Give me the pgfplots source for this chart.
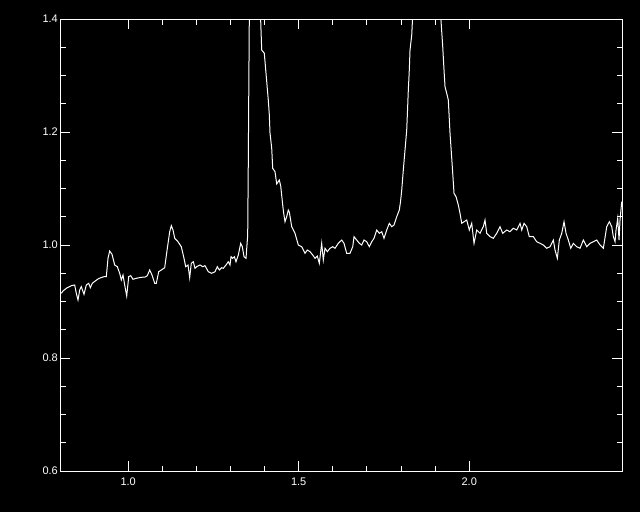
\documentclass[border=0pt]{standalone}
\usepackage{fontspec}
\setmainfont{Liberation Sans}
\usepackage{pgfplots}
\pgfplotsset{compat=1.18}
\begin{document}
\begin{tikzpicture}[x=1pt,y=1pt]
\fill[black] (0,0) rectangle (640,512);
\begin{axis}[
  at={(60pt,41pt)}, anchor=south west,
  scale only axis, width=562pt, height=452pt,
  xmin=0.8, xmax=2.448, ymin=0.6, ymax=1.4,
  xtick={1.0,1.5,2.0}, ytick={0.6,0.8,1.0,1.2,1.4},
  minor x tick num=4, minor y tick num=3,
  tick align=inside,
  major tick length=10pt, minor tick length=5.5pt,
  axis line style={white, line width=1pt},
  every tick/.style={white, line width=1pt},
  tick label style={white, font=\fontsize{11}{13}\selectfont},
  /pgf/number format/assume math mode=true,
  /pgf/number format/fixed,
  /pgf/number format/fixed zerofill,
  /pgf/number format/precision=1,
  xticklabel style={inner sep=0pt, yshift=-7pt},
  yticklabel style={inner sep=0pt, xshift=-2pt},
  clip=true,
]
\addplot[white, line width=1pt] coordinates {
(0.8038,0.9145)(0.8088,0.9186)(0.8185,0.9234)(0.8331,0.9280)(0.8431,0.9292)(0.8478,0.9145)
(0.8528,0.9027)(0.8578,0.9204)(0.8625,0.9262)(0.8704,0.9127)(0.8771,0.9292)(0.8842,0.9322)
(0.8889,0.9244)(0.8947,0.9322)(0.9035,0.9363)(0.9114,0.9398)(0.9194,0.9421)(0.9290,0.9439)
(0.9358,0.9439)(0.9408,0.9765)(0.9457,0.9894)(0.9525,0.9835)(0.9604,0.9646)(0.9680,0.9616)
(0.9751,0.9499)(0.9798,0.9381)(0.9848,0.9469)(0.9897,0.9292)(0.9956,0.9097)(1.0015,0.9439)
(1.0073,0.9457)(1.0141,0.9393)(1.0238,0.9411)(1.0384,0.9428)(1.0501,0.9434)(1.0560,0.9457)
(1.0630,0.9558)(1.0698,0.9469)(1.0777,0.9322)(1.0824,0.9322)(1.0894,0.9527)(1.0971,0.9558)
(1.1070,0.9598)(1.1147,0.9942)(1.1217,1.0235)(1.1264,1.0342)(1.1314,1.0265)(1.1364,1.0119)
(1.1460,1.0058)(1.1557,0.9970)(1.1636,0.9765)(1.1686,0.9616)(1.1754,0.9646)(1.1803,0.9421)
(1.1850,0.9676)(1.1909,0.9704)(1.1959,0.9588)(1.2009,0.9616)(1.2106,0.9646)(1.2185,0.9616)
(1.2252,0.9634)(1.2349,0.9527)(1.2449,0.9499)(1.2545,0.9527)(1.2613,0.9616)(1.2672,0.9558)
(1.2742,0.9598)(1.2789,0.9588)(1.2868,0.9646)(1.2935,0.9704)(1.2985,0.9646)(1.3015,0.9793)
(1.3064,0.9765)(1.3111,0.9793)(1.3161,0.9704)(1.3229,0.9823)(1.3299,1.0030)(1.3346,0.9970)
(1.3396,0.9793)(1.3455,0.9765)(1.3504,1.0177)(1.3522,1.1504)(1.3534,1.2566)(1.3551,1.4000)
(1.3600,1.6000)(1.3720,1.7000)(1.3840,1.5000)
(1.3886,1.3952)(1.3915,1.3451)(1.3991,1.3393)(1.4062,1.2890)(1.4108,1.2566)(1.4138,1.2301)
(1.4158,1.1982)(1.4208,1.1712)(1.4237,1.1358)(1.4305,1.1297)(1.4355,1.1080)(1.4431,1.1150)
(1.4472,1.1044)(1.4531,1.0708)(1.4554,1.0584)(1.4598,1.0412)(1.4648,1.0501)(1.4695,1.0619)
(1.4724,1.0584)(1.4795,1.0324)(1.4891,1.0207)(1.4988,1.0000)(1.5088,0.9970)(1.5185,0.9853)
(1.5252,0.9912)(1.5331,0.9882)(1.5411,0.9823)(1.5478,0.9765)(1.5545,0.9805)(1.5604,0.9676)
(1.5674,1.0030)(1.5721,0.9735)(1.5771,0.9942)(1.5839,0.9882)(1.5918,0.9942)(1.5997,0.9970)
(1.6064,0.9942)(1.6161,1.0030)(1.6261,1.0088)(1.6328,1.0030)(1.6407,0.9853)(1.6504,0.9853)
(1.6584,0.9970)(1.6622,1.0147)(1.6701,1.0088)(1.6777,1.0030)(1.6848,1.0000)(1.6915,1.0088)
(1.6994,1.0058)(1.7070,0.9970)(1.7141,1.0058)(1.7208,1.0119)(1.7287,1.0265)(1.7364,1.0207)
(1.7434,1.0235)(1.7501,1.0119)(1.7581,1.0265)(1.7657,1.0384)(1.7727,1.0324)(1.7795,1.0354)
(1.7874,1.0501)(1.7950,1.0619)(1.7985,1.0766)(1.8021,1.0973)(1.8067,1.1327)(1.8117,1.1681)
(1.8167,1.2035)(1.8191,1.2389)(1.8214,1.2743)(1.8243,1.3097)(1.8264,1.3451)(1.8314,1.3717)
(1.8337,1.4000)(1.8450,1.5500)(1.8650,1.7000)(1.8850,1.7200)(1.9050,1.5500)
(1.9173,1.3965)(1.9223,1.3510)(1.9261,1.3097)(1.9290,1.2802)(1.9340,1.2685)(1.9387,1.2566)
(1.9437,1.1977)(1.9504,1.1386)(1.9554,1.0915)(1.9613,1.0855)(1.9680,1.0708)(1.9730,1.0561)
(1.9780,1.0384)(1.9848,1.0412)(1.9927,1.0442)(2.0003,1.0265)(2.0073,1.0384)(2.0141,1.0030)
(2.0220,1.0265)(2.0317,1.0207)(2.0413,1.0324)(2.0463,1.0442)(2.0513,1.0207)(2.0610,1.0147)
(2.0707,1.0119)(2.0806,1.0207)(2.0903,1.0324)(2.0982,1.0207)(2.1100,1.0265)(2.1196,1.0235)
(2.1293,1.0296)(2.1393,1.0265)(2.1490,1.0384)(2.1540,1.0265)(2.1607,1.0384)(2.1686,1.0324)
(2.1762,1.0147)(2.1880,1.0147)(2.1979,1.0058)(2.2076,1.0030)(2.2173,1.0000)(2.2273,0.9942)
(2.2370,0.9970)(2.2466,1.0088)(2.2516,0.9912)(2.2584,0.9765)(2.2642,1.0088)(2.2713,1.0207)
(2.2780,1.0412)(2.2839,1.0207)(2.2906,1.0088)(2.2977,0.9942)(2.3053,1.0030)(2.3152,0.9970)
(2.3249,0.9942)(2.3346,1.0088)(2.3446,0.9970)(2.3543,1.0030)(2.3639,1.0058)(2.3739,1.0088)
(2.3836,1.0000)(2.3933,0.9942)(2.4032,1.0324)(2.4109,1.0412)(2.4179,1.0324)(2.4226,1.0147)
(2.4276,1.0058)(2.4305,1.0265)(2.4355,1.0473)(2.4393,1.0088)(2.4422,1.0442)(2.4472,1.0766)
};
\end{axis}
\end{tikzpicture}
\end{document}
